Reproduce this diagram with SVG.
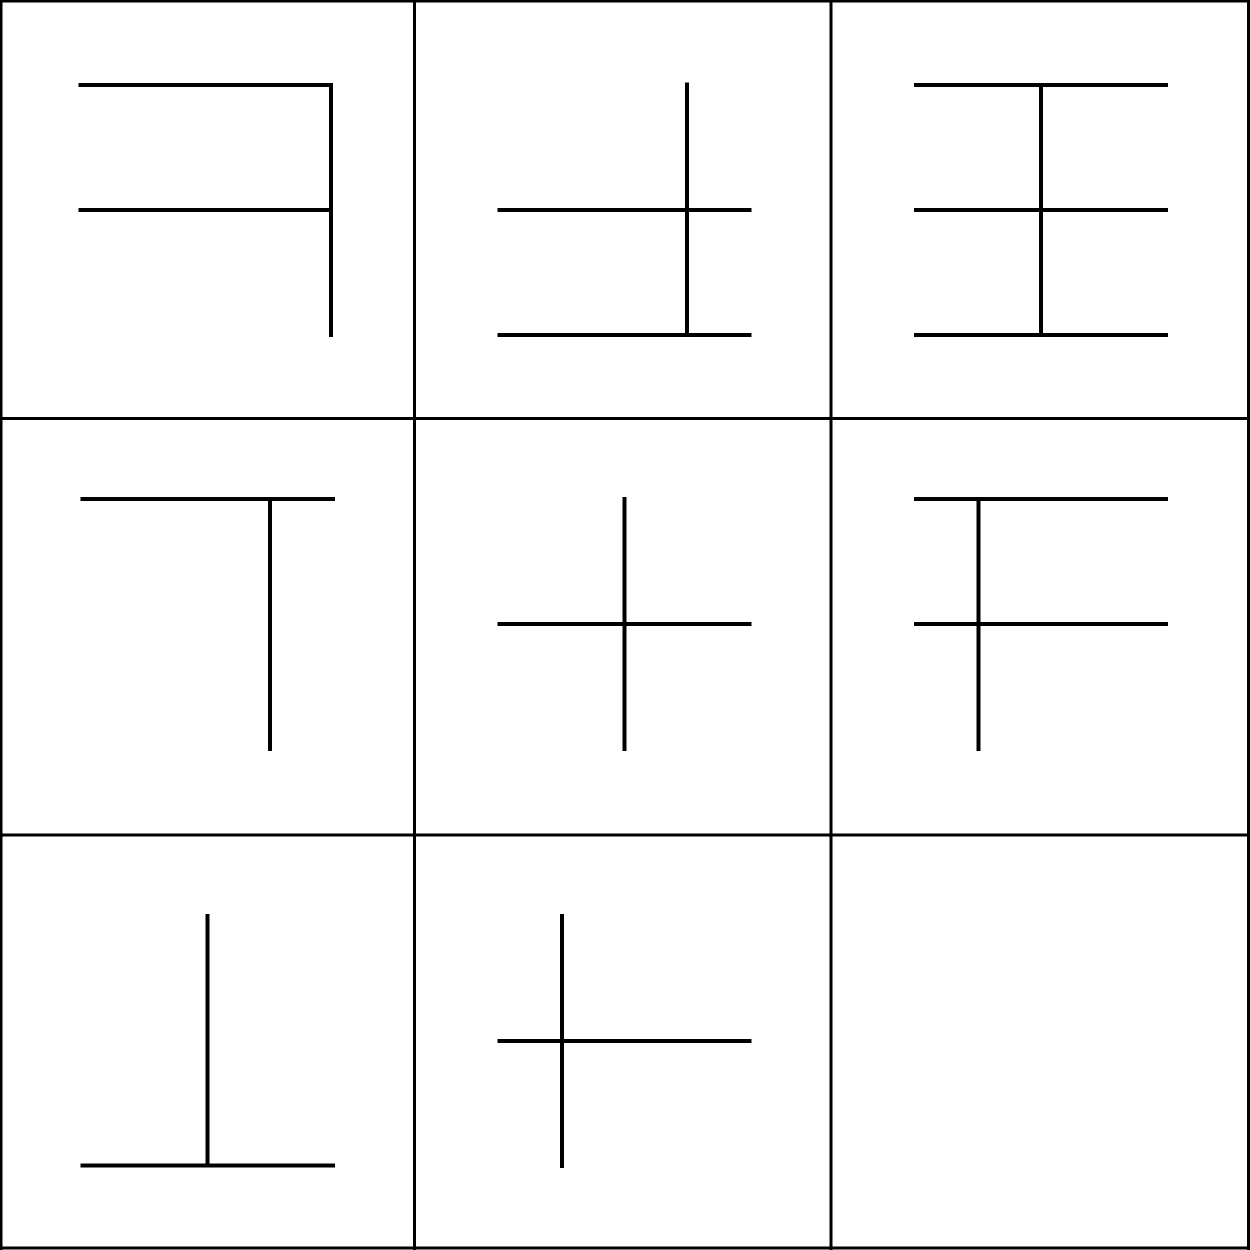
<svg xmlns="http://www.w3.org/2000/svg" width="1250" height="1250" viewBox="0 0 1250 1250">
<style>
line{stroke:#000;stroke-width:4;fill:none}
#grid line{stroke-width:3}
</style>
<rect width="1250" height="1250" fill="#fff"/>
<g id="grid">
<line x1="1" y1="0" x2="1" y2="1250"/>
<line x1="414.5" y1="0" x2="414.5" y2="1250"/>
<line x1="831" y1="0" x2="831" y2="1250"/>
<line x1="1248.5" y1="0" x2="1248.5" y2="1250"/>
<line x1="0" y1="1" x2="1250" y2="1"/>
<line x1="0" y1="418.5" x2="1250" y2="418.5"/>
<line x1="0" y1="835" x2="1250" y2="835"/>
<line x1="0" y1="1248" x2="1250" y2="1248"/>
</g>
<g id="cell1">
<line x1="78.5" y1="85" x2="332.5" y2="85"/>
<line x1="78.5" y1="210" x2="331" y2="210"/>
<line x1="331" y1="83" x2="331" y2="337"/>
</g>
<g id="cell2">
<line x1="687" y1="82.5" x2="687" y2="334"/>
<line x1="497.5" y1="210" x2="751.5" y2="210"/>
<line x1="497.5" y1="335" x2="751.5" y2="335"/>
</g>
<g id="cell3">
<line x1="914" y1="85" x2="1168" y2="85"/>
<line x1="914" y1="210" x2="1168" y2="210"/>
<line x1="914" y1="335" x2="1168" y2="335"/>
<line x1="1041" y1="85" x2="1041" y2="335"/>
</g>
<g id="cell4">
<line x1="80.5" y1="499" x2="335" y2="499"/>
<line x1="270" y1="499" x2="270" y2="751"/>
</g>
<g id="cell5">
<line x1="624.5" y1="497" x2="624.5" y2="751"/>
<line x1="497.5" y1="624" x2="751.5" y2="624"/>
</g>
<g id="cell6">
<line x1="914" y1="499" x2="1168" y2="499"/>
<line x1="914" y1="624" x2="1168" y2="624"/>
<line x1="978.5" y1="499" x2="978.5" y2="751"/>
</g>
<g id="cell7">
<line x1="207.5" y1="914" x2="207.5" y2="1165"/>
<line x1="80.5" y1="1165.5" x2="335" y2="1165.5"/>
</g>
<g id="cell8">
<line x1="562" y1="914" x2="562" y2="1168"/>
<line x1="497.5" y1="1041" x2="751.5" y2="1041"/>
</g>
<g id="cell9"></g>
</svg>
